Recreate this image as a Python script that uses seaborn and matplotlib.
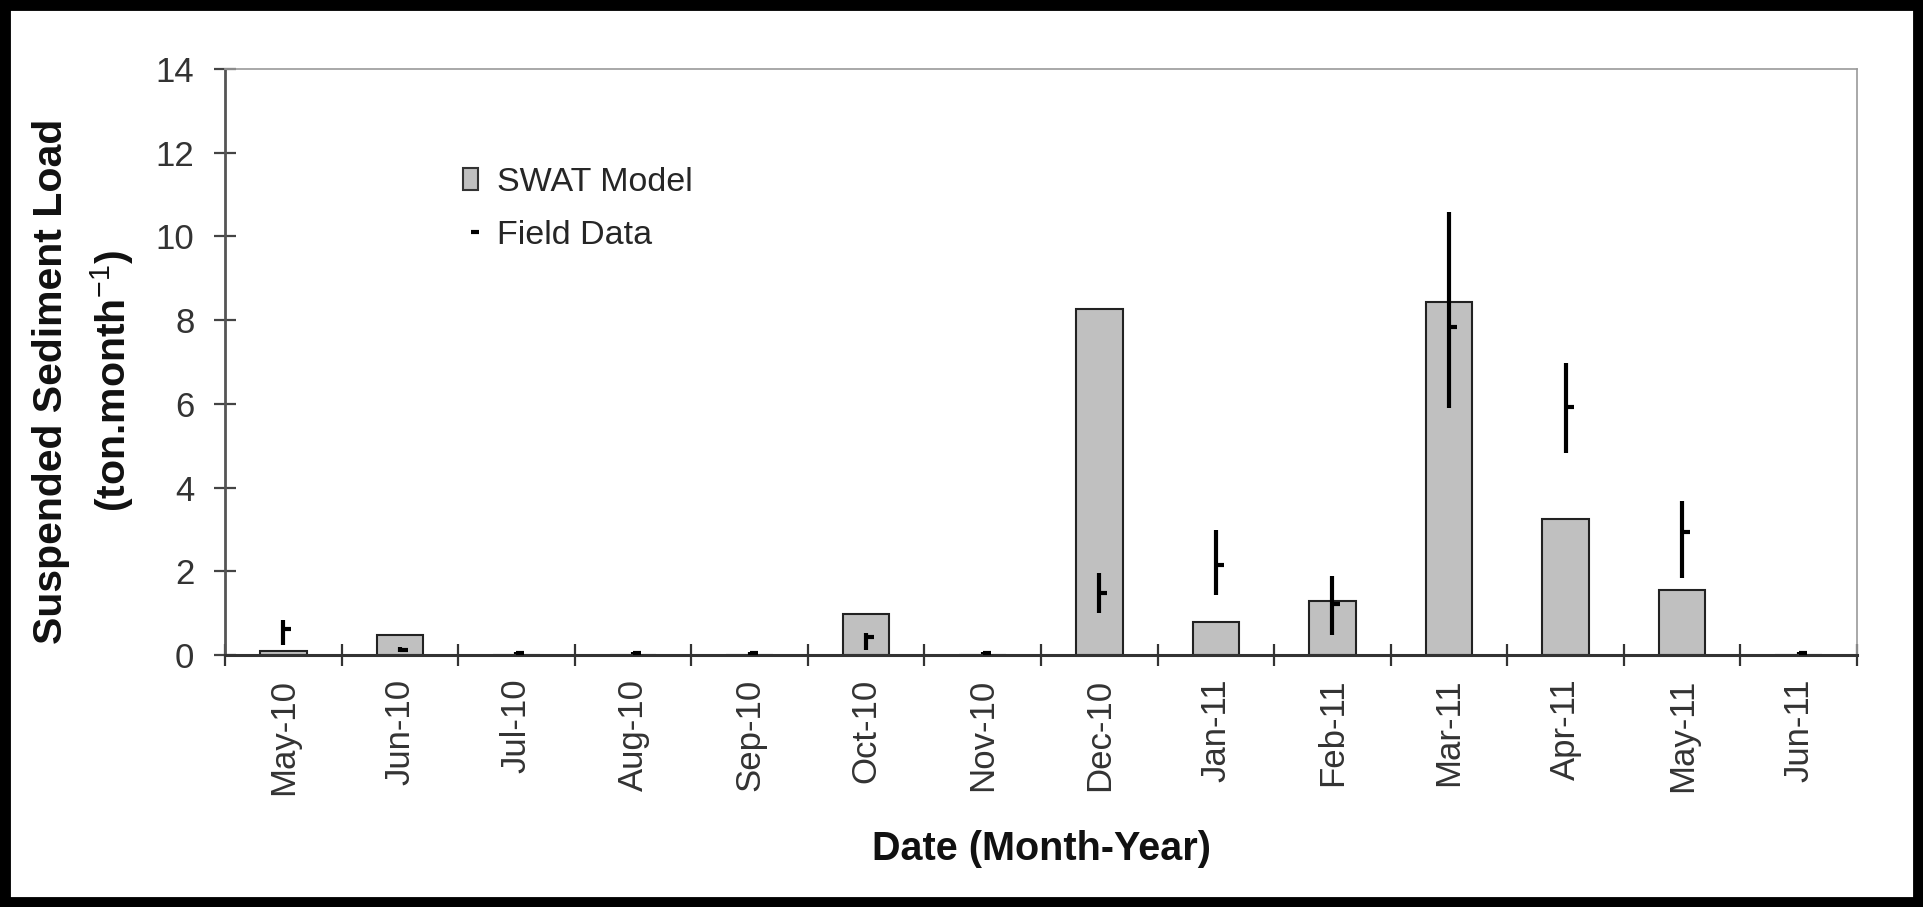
import numpy as np
import pandas as pd
import matplotlib
matplotlib.use("Agg")
import matplotlib.pyplot as plt
from matplotlib.patches import Patch, Rectangle
from matplotlib.lines import Line2D
from matplotlib.markers import TICKRIGHT
import seaborn as sns

# Monthly suspended sediment load (ton/month)
months = ["May-10", "Jun-10", "Jul-10", "Aug-10", "Sep-10", "Oct-10", "Nov-10",
          "Dec-10", "Jan-11", "Feb-11", "Mar-11", "Apr-11", "May-11", "Jun-11"]
swat_model = [0.10, 0.48, 0.0, 0.0, 0.0, 0.98, 0.0, 8.27, 0.80, 1.30, 8.43, 3.26, 1.56, 0.0]
field_close = [0.62, 0.12, 0.04, 0.04, 0.04, 0.44, 0.05, 1.49, 2.15, 1.22, 7.84, 5.93, 2.95, 0.04]
field_high = [0.84, 0.18, 0.06, 0.06, 0.07, 0.52, 0.08, 1.95, 2.99, 1.89, 10.58, 6.98, 3.69, 0.06]
field_low = [0.24, 0.06, 0.02, 0.02, 0.01, 0.12, 0.02, 1.00, 1.43, 0.48, 5.89, 4.82, 1.83, 0.02]
y_ticks = [0, 2, 4, 6, 8, 10, 12, 14]

df = pd.DataFrame({"month": months, "swat": swat_model,
                   "close": field_close, "high": field_high, "low": field_low})

sns.set_theme(style="white")
plt.rcParams["font.family"] = ["Liberation Sans", "DejaVu Sans"]
plt.rcParams["mathtext.fontset"] = "custom"
plt.rcParams["mathtext.rm"] = "Liberation Sans"
plt.rcParams["mathtext.it"] = "Liberation Sans"
plt.rcParams["mathtext.bf"] = "Liberation Sans:bold"

W, H = 1923, 907
fig = plt.figure(figsize=(W / 100, H / 100), dpi=100)
fig.patch.set_facecolor("white")
ax = fig.add_axes([225 / W, 1 - 655 / H, (1857 - 225) / W, (655 - 69) / H])

bar_color = "#c0c0c0"
sns.barplot(data=df, x="month", y="swat", color=bar_color, saturation=1,
            edgecolor="#222222", linewidth=1.5, width=0.4, ax=ax, zorder=2)

# Field observations drawn as high-low lines with a closing tick
xpos = np.arange(len(months))
ax.vlines(xpos, df["low"], df["high"], color="black", linewidth=3.0, zorder=3)
ax.plot(xpos, df["close"], linestyle="none", marker=TICKRIGHT, markersize=6,
        markeredgewidth=3, color="black", zorder=4)

ax.set_xlim(-0.5, len(months) - 0.5)
ax.set_ylim(0, 14)
ax.set_yticks(y_ticks)
ax.set_yticklabels([str(v) for v in y_ticks], fontsize=25, color="#333333")

# Tick marks sit between categories, labels at category centres
ax.set_xticks(np.arange(len(months) + 1) - 0.5)
ax.set_xticklabels([""] * (len(months) + 1))
ax.set_xticks(xpos, minor=True)
ax.set_xticklabels(months, minor=True, rotation=90, fontsize=25, color="#333333")
ax.tick_params(axis="x", which="major", direction="inout", length=16, width=1.6,
               color="#333333", bottom=True)
ax.tick_params(axis="x", which="minor", length=0, pad=17, bottom=True)
ax.tick_params(axis="y", which="major", direction="inout", length=16, width=1.6,
               color="#444444", pad=14, left=True)
ax.set_xlabel("")
ax.set_ylabel("")

for side, col, lw in [("left", "#555555", 2.0), ("bottom", "#333333", 2.2),
                      ("top", "#9a9a9a", 1.2), ("right", "#9a9a9a", 1.2)]:
    ax.spines[side].set_visible(True)
    ax.spines[side].set_color(col)
    ax.spines[side].set_linewidth(lw)

handles = [Patch(facecolor=bar_color, edgecolor="#333333", linewidth=1.5),
           Line2D([], [], linestyle="none", marker=TICKRIGHT, markersize=6,
                  markeredgewidth=3, color="black")]
ax.legend(handles, ["SWAT Model", "Field Data"], loc="upper left",
          bbox_to_anchor=(0.1458, 0.832), frameon=False, fontsize=24.5,
          handlelength=0.45, handleheight=0.62, handletextpad=0.55,
          labelspacing=0.62, borderpad=0, borderaxespad=0)

fig.text(84 / W, 1 - 381 / H, "Suspended Sediment Load\n(ton.month$^{-1}$)",
         rotation=90, ha="center", va="center", multialignment="center",
         fontsize=29.5, fontweight="bold", linespacing=1.5, color="#111111")
fig.text(1041 / W, 1 - 849 / H, "Date (Month-Year)", ha="center", va="center",
         fontsize=28.5, fontweight="bold", color="#111111")

# Outer black frame around the whole figure
fig.add_artist(Rectangle((0, 0), 1, 1, transform=fig.transFigure, fill=False,
                         edgecolor="black", linewidth=15, zorder=10))

fig.savefig("out.png", dpi=100, facecolor="white")
